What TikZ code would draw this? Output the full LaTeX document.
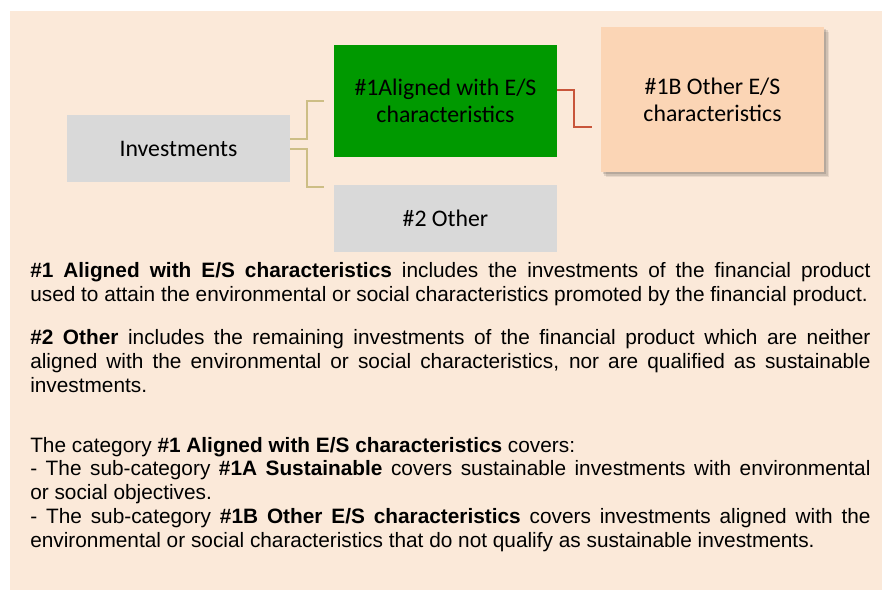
\documentclass[tikz,border=0pt]{standalone}
\usepackage{fontspec}
\setmainfont{Liberation Sans}
\newfontfamily\boxfont{Carlito}
\usetikzlibrary{shadows}
\definecolor{bgpeach}{HTML}{FBE9D9}
\definecolor{boxgray}{HTML}{D9D9D9}
\definecolor{boxgreen}{HTML}{009900}
\definecolor{boxpeach}{HTML}{FBD5B5}
\definecolor{tanline}{HTML}{CDBE85}
\definecolor{redline}{HTML}{C8553A}

\begin{document}
\begin{tikzpicture}[x=0.025cm, y=-0.025cm,
    box/.style={minimum width=5.575cm, inner sep=0pt, align=center,
      font=\boxfont\fontsize{16.9pt}{19.2pt}\selectfont},
    para/.style={anchor=base west, inner sep=0pt, text width=21cm, align=justify,
      font=\fontsize{14.8pt}{16.9pt}\selectfont}]
   \def\Xa{178.5}
   \def\Xb{445.5}
   \def\Xc{712.5}
   \def\Xt{30}

   \useasboundingbox (0,0) rectangle (882,590);
   \fill[bgpeach] (10,11) rectangle (882,590);
   % boxes
   \node[box, fill=boxgray, minimum height=1.675cm] (inv) at (\Xa, 148.5) {Investments};
   \node[box, fill=boxgreen, minimum height=2.8cm] (aligned) at (\Xb, 101) {\#1Aligned with E/S\\characteristics};
   \node[box, fill=boxgray, minimum height=1.675cm] (other) at (\Xb, 218.5) {\#2 Other};
   \node[box, fill=boxpeach, minimum height=3.625cm,
         drop shadow={shadow xshift=3.5pt, shadow yshift=-3.5pt, opacity=0.08, fill=black},
         drop shadow={shadow xshift=2.5pt, shadow yshift=-2.5pt, opacity=0.1, fill=black},
         drop shadow={shadow xshift=1.2pt, shadow yshift=-1.2pt, opacity=0.12, fill=black}]
         (otherES) at (\Xc, 99.5) {\#1B Other E/S\\characteristics};
   % connectors
   \draw[tanline, line width=1.3pt] ([shift={(0,-9.5)}]inv.east) -- ++(17,0) |- ([shift={(-10,0)}]aligned.west);
   \draw[tanline, line width=1.3pt] ([shift={(0,0.5)}]inv.east) -- ++(17,0) |- ([shift={(-10,2)}]other.north west);
   \draw[redline, line width=1.4pt] ([shift={(0,-11)}]aligned.east) -- ++(17,0) |- ([shift={(-9,27.5)}]otherES.west);
   % text
   \node[para] (parone) at (\Xt, 278) {\textbf{\#1 Aligned with E/S characteristics} includes the investments of the financial product\linebreak
     used to attain the environmental or social characteristics promoted by the financial product.};
   \node[para] (partwo) at (\Xt, 345) {\textbf{\#2 Other} includes the remaining investments of the financial product which are neither\linebreak
     aligned with the environmental or social characteristics, nor are qualified as sustainable\linebreak
     investments.};
   \node[para] (parthree) at (\Xt, 452) {The category \textbf{\#1 Aligned with E/S characteristics} covers:\\
     - The sub-category \textbf{\#1A Sustainable} covers sustainable investments with environmental\linebreak
     or social objectives.\\
     - The sub-category \textbf{\#1B Other E/S characteristics} covers investments aligned with the\linebreak
     environmental or social characteristics that do not qualify as sustainable investments.};
\end{tikzpicture}
\end{document}
